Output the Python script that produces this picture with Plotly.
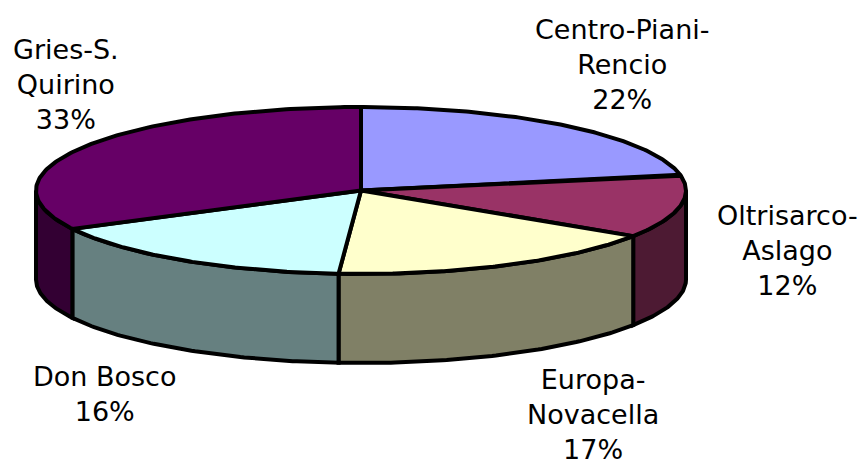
import numpy as np
import plotly.graph_objects as go

categories = ["Centro-Piani-<br>Rencio", "Oltrisarco-<br>Aslago", "Europa-<br>Novacella", "Don Bosco", "Gries-S.<br>Quirino"]
values = [22.0, 12.2, 16.9, 16.3, 32.6]
percent_labels = ["22%", "12%", "17%", "16%", "33%"]
top_colors = ["#9999FF", "#993366", "#FFFFCC", "#CCFFFF", "#660066"]
side_colors = ["#4D4D80", "#4D1A33", "#808066", "#668080", "#330033"]
label_pos = [(622, 64), (787, 250), (593, 414), (104, 394), (66, 84)]

CX, CY, RX, RY, DEPTH = 361, 190.5, 325, 83.5, 89
LINE = dict(color="black", width=4)


def px(theta):
    return CX + RX * np.sin(theta)


def py(theta, drop=0):
    return CY - RY * np.cos(theta) + drop


fig = go.Figure()
edges = np.cumsum([0] + values) / sum(values) * 2 * np.pi

# side walls (front half of the rim only), left and right first
for i in range(len(values)):
    a0 = max(edges[i], np.pi / 2)
    a1 = min(edges[i + 1], 3 * np.pi / 2)
    if a1 <= a0:
        continue
    t = np.linspace(a0, a1, 80)
    x = np.concatenate([px(t), px(t[::-1]), [px(t[0])]])
    y = np.concatenate([py(t), py(t[::-1], DEPTH), [py(t[0])]])
    fig.add_trace(go.Scatter(x=x, y=y, mode="lines", fill="toself", fillcolor=side_colors[i],
                             line=LINE, hoverinfo="skip", showlegend=False))

# top faces
for i in range(len(values)):
    t = np.linspace(edges[i], edges[i + 1], 160)
    x = np.concatenate([[CX], px(t), [CX]])
    y = np.concatenate([[CY], py(t), [CY]])
    fig.add_trace(go.Scatter(x=x, y=y, mode="lines", fill="toself", fillcolor=top_colors[i],
                             line=LINE, hoverinfo="skip", showlegend=False))

for i, name in enumerate(categories):
    fig.add_annotation(x=label_pos[i][0], y=label_pos[i][1], text=f"{name}<br>{percent_labels[i]}",
                       showarrow=False, xanchor="center", yanchor="middle",
                       font=dict(family="DejaVu Sans", size=27, color="black"))

fig.update_layout(width=859, height=461, margin=dict(l=0, r=0, t=0, b=0),
                  paper_bgcolor="white", plot_bgcolor="white", showlegend=False,
                  xaxis=dict(range=[0, 859], visible=False, fixedrange=True),
                  yaxis=dict(range=[461, 0], visible=False, fixedrange=True))
fig.write_html("out.html", config=dict(displayModeBar=False),
               post_script="document.body.style.margin='0';document.body.style.overflow='hidden';")
